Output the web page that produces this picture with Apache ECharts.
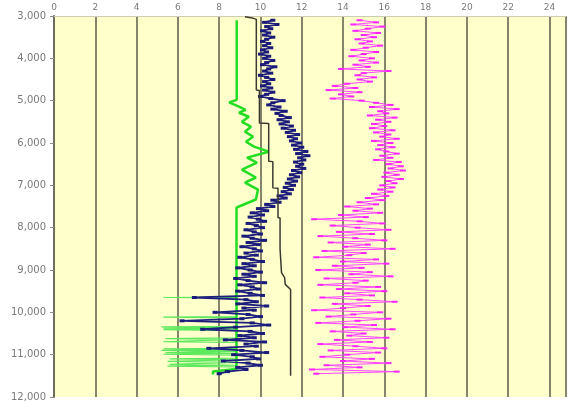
<!DOCTYPE html>
<html>
<head>
<meta charset="utf-8">
<script src="https://cdn.jsdelivr.net/npm/echarts@6/dist/echarts.min.js"></script>
<style>
  html, body { margin: 0; padding: 0; background: #ffffff; }
  #chart { width: 569px; height: 402px; }
</style>
</head>
<body>
<div id="chart"></div>
<script>
// Depth axis (ft) and horizontal scale settings
const depthTicks = [3000, 4000, 5000, 6000, 7000, 8000, 9000, 10000, 11000, 12000];
const valueTicks = [0, 2, 4, 6, 8, 10, 12, 14, 16, 18, 20, 22, 24];

// Sample depths shared by the two log curves (every 50 ft)
const logDepth = [
  3100, 3150, 3200, 3250, 3300, 3350, 3400, 3450, 3500, 3550,
  3600, 3650, 3700, 3750, 3800, 3850, 3900, 3950, 4000, 4050,
  4100, 4150, 4200, 4250, 4300, 4350, 4400, 4450, 4500, 4550,
  4600, 4650, 4700, 4750, 4800, 4850, 4900, 4950, 5000, 5050,
  5100, 5150, 5200, 5250, 5300, 5350, 5400, 5450, 5500, 5550,
  5600, 5650, 5700, 5750, 5800, 5850, 5900, 5950, 6000, 6050,
  6100, 6150, 6200, 6250, 6300, 6350, 6400, 6450, 6500, 6550,
  6600, 6650, 6700, 6750, 6800, 6850, 6900, 6950, 7000, 7050,
  7100, 7150, 7200, 7250, 7300, 7350, 7400, 7450, 7500, 7550,
  7600, 7650, 7700, 7750, 7800, 7850, 7900, 7950, 8000, 8050,
  8100, 8150, 8200, 8250, 8300, 8350, 8400, 8450, 8500, 8550,
  8600, 8650, 8700, 8750, 8800, 8850, 8900, 8950, 9000, 9050,
  9100, 9150, 9200, 9250, 9300, 9350, 9400, 9450, 9500, 9550,
  9600, 9650, 9700, 9750, 9800, 9850, 9900, 9950, 10000, 10050,
  10100, 10150, 10200, 10250, 10300, 10350, 10400, 10450, 10500, 10550,
  10600, 10650, 10700, 10750, 10800, 10850, 10900, 10950, 11000, 11050,
  11100, 11150, 11200, 11250, 11300, 11350, 11400, 11450
];

// Navy curve
const navyValues = [
  10.6, 10.2, 10.8, 10.3, 10.5, 10.1, 10.4, 10.2, 10.6, 10.3,
  10.1, 10.4, 10.2, 10.5, 10.1, 10.3, 10.0, 10.4, 10.2, 10.6,
  10.3, 10.1, 10.7, 10.4, 10.2, 10.5, 10.0, 10.3, 10.6, 10.2,
  10.4, 10.1, 10.5, 10.2, 10.6, 10.3, 10.0, 10.5, 11.1, 10.6,
  10.4, 10.9, 10.6, 11.2, 10.8, 11.0, 11.4, 10.9, 11.3, 11.0,
  11.5, 11.1, 11.6, 11.3, 11.8, 11.4, 11.7, 11.5, 11.9, 11.6,
  12.0, 11.7, 12.2, 11.8, 12.3, 11.9, 12.1, 11.7, 12.0, 11.8,
  12.1, 11.6, 11.9, 11.5, 11.8, 11.4, 11.7, 11.3, 11.6, 11.2,
  11.5, 11.1, 11.4, 10.9, 11.2, 10.6, 10.9, 10.3, 10.6, 9.9,
  10.3, 9.6, 10.1, 9.5, 9.9, 10.2, 9.4, 9.8, 10.1, 9.3,
  9.7, 10.0, 9.2, 9.6, 10.2, 9.4, 9.9, 9.1, 9.7, 10.0,
  9.3, 9.8, 9.0, 9.6, 10.1, 9.2, 9.7, 8.9, 9.5, 10.0,
  9.2, 9.7, 8.8, 9.4, 10.2, 9.0, 9.6, 9.9, 8.9, 9.5,
  10.1, 6.8, 9.3, 9.8, 8.9, 10.3, 9.2, 9.7, 7.8, 9.4,
  10.0, 9.1, 6.2, 9.6, 10.4, 8.8, 7.2, 9.5, 10.1, 9.0,
  9.7, 8.3, 10.2, 9.3, 9.8, 7.5, 9.1, 10.3, 8.7, 9.6,
  9.9, 8.2, 9.4, 10.0, 8.9, 9.3, 8.4, 8.0
];

// Magenta curve
const magentaValues = [
  14.8, 15.6, 14.5, 15.9, 15.2, 14.6, 15.7, 15.0, 15.5, 14.7,
  15.3, 14.9, 15.8, 15.1, 14.5, 15.6, 15.0, 14.4, 15.4, 14.9,
  15.6, 14.6, 15.2, 13.9, 16.2, 15.0, 14.7, 15.5, 14.8, 15.3,
  14.2, 13.6, 14.6, 13.3, 14.8, 13.9, 14.4, 13.5, 14.9, 15.6,
  16.3, 15.4, 16.6, 15.8, 16.1, 15.3, 16.5, 15.7, 16.2, 15.5,
  16.0, 15.4, 16.4, 15.6, 16.2, 15.9, 16.6, 15.5, 16.3, 15.8,
  16.4, 15.7, 16.1, 16.6, 15.9, 16.3, 15.6, 16.7, 16.2, 16.8,
  16.3, 16.9, 16.1, 16.6, 16.0, 16.8, 16.2, 16.5, 15.9, 16.4,
  15.8, 16.3, 15.5, 16.1, 15.2, 15.9, 14.8, 15.6, 14.2, 15.3,
  14.6, 15.8, 13.9, 15.1, 12.6, 14.8, 15.9, 13.5, 14.7, 16.2,
  13.8, 15.4, 12.9, 14.6, 16.0, 13.4, 15.2, 14.1, 16.4, 13.1,
  15.0, 14.3, 12.7, 15.6, 14.0, 16.1, 13.6, 14.9, 12.8, 15.3,
  14.4, 16.3, 13.2, 15.1, 14.6, 12.9, 15.7, 13.8, 16.0, 14.2,
  15.4, 13.0, 14.8, 16.5, 13.6, 15.2, 14.0, 12.6, 15.8, 14.5,
  13.3, 16.2, 14.7, 12.8, 15.5, 14.1, 16.4, 13.5, 15.0, 14.3,
  16.1, 13.7, 15.3, 12.9, 14.6, 16.0, 13.4, 15.7, 14.2, 13.0,
  15.4, 14.0, 16.2, 13.2, 14.8, 12.5, 16.6, 12.7
];

// Green curve (main trace)
const greenDepth = [
  3100, 4980, 5040, 5140, 5215, 5285, 5380, 5500, 5615, 5735,
  5850, 5970, 6085, 6205, 6345, 6465, 6630, 6815, 6935, 7100,
  7335, 7500, 7525, 11340, 11400, 11470
];
const greenValues = [
  8.85, 8.85, 8.48, 8.96, 9.28, 8.96, 9.44, 9.10, 9.54, 9.25,
  9.64, 9.30, 9.69, 10.40, 9.35, 9.83, 9.10, 9.78, 9.25, 9.88,
  9.78, 8.96, 8.84, 8.84, 7.70, 7.70
];

// Green curve (thin excursions in the lower section)
const greenSpikeDepth = [
  9640, 9650, 9660, 10100, 10115, 10130,
  10330, 10345, 10360, 10375, 10390, 10410, 10430,
  10600, 10620, 10640, 10680, 10695, 10710,
  10850, 10865, 10880, 10900, 10920, 10950, 10970, 10990, 11010,
  11080, 11100, 11120, 11160, 11180, 11230, 11250, 11270, 11290
];
const greenSpikeValues = [
  8.85, 5.3, 8.85, 8.85, 5.3, 8.85,
  8.85, 5.2, 8.85, 5.3, 8.85, 5.3, 8.85,
  8.85, 5.4, 8.85, 8.85, 5.3, 8.85,
  8.85, 5.3, 8.85, 5.2, 8.85, 5.4, 8.85, 5.3, 8.85,
  8.85, 5.6, 8.85, 5.5, 8.85, 5.6, 8.85, 5.5, 8.85
];

// Black stepped curve
const blackDepth = [
  3020, 3045, 3080, 4750, 4760, 5530, 5540, 6430, 6440, 7060,
  7070, 7760, 7770, 8500, 8510, 9060, 9180, 9340, 9460, 11500
];
const blackValues = [
  9.25, 9.60, 9.80, 9.80, 9.95, 9.95, 10.40, 10.40, 10.60, 10.60,
  10.85, 10.85, 10.95, 10.95, 11.02, 11.02, 11.17, 11.20, 11.46, 11.46
];

function pairs(xs, ys) {
  return xs.map((x, i) => [x, ys[i]]);
}

const chart = echarts.init(document.getElementById('chart'), null, { renderer: 'canvas' });

const labelFont = { fontFamily: 'DejaVu Sans', color: '#7a7a7a' };

chart.setOption({
  animation: false,
  backgroundColor: '#ffffff',
  grid: {
    left: 54, right: 0, top: 16, bottom: 4,
    show: true,
    backgroundColor: '#ffffcc',
    borderWidth: 0
  },
  xAxis: {
    type: 'value',
    position: 'top',
    min: valueTicks[0],
    max: 24.8,
    interval: 2,
    axisLine: { show: true, lineStyle: { color: '#cfcbb0', width: 1 } },
    axisTick: { show: false },
    axisLabel: {
      ...labelFont, fontSize: 9, margin: 4,
      formatter: v => (valueTicks.indexOf(v) >= 0 ? String(v) : '')
    },
    splitLine: { show: true, lineStyle: { color: '#85856c', width: 2 } }
  },
  yAxis: {
    type: 'value',
    inverse: true,
    min: depthTicks[0],
    max: depthTicks[depthTicks.length - 1],
    interval: 1000,
    axisLine: { show: true, onZero: false, lineStyle: { color: '#6e6e5c', width: 2 } },
    axisTick: { show: true, length: 4, lineStyle: { color: '#8a8a8a' } },
    axisLabel: { ...labelFont, fontSize: 10, margin: 8 },
    splitLine: { show: false }
  },
  series: [
    {
      type: 'line',
      data: pairs(greenSpikeValues, greenSpikeDepth),
      showSymbol: false,
      lineStyle: { color: '#5ee85e', width: 1.2 },
      z: 2
    },
    {
      type: 'line',
      data: pairs(greenValues, greenDepth),
      showSymbol: false,
      lineStyle: { color: '#22dd22', width: 2.5 },
      z: 3
    },
    {
      type: 'line',
      data: pairs(magentaValues, logDepth),
      symbol: 'rect',
      symbolSize: [6, 2],
      itemStyle: { color: '#ff22ff' },
      lineStyle: { color: '#ff44ff', width: 1 },
      z: 4
    },
    {
      type: 'line',
      data: pairs(navyValues, logDepth),
      symbol: 'rect',
      symbolSize: [5, 3],
      itemStyle: { color: '#1a1a78' },
      lineStyle: { color: '#1f1f80', width: 1.8 },
      z: 5
    },
    {
      type: 'line',
      data: pairs(blackValues, blackDepth),
      showSymbol: false,
      lineStyle: { color: '#3a3a30', width: 1.5 },
      z: 6
    }
  ]
});
</script>
</body>
</html>
